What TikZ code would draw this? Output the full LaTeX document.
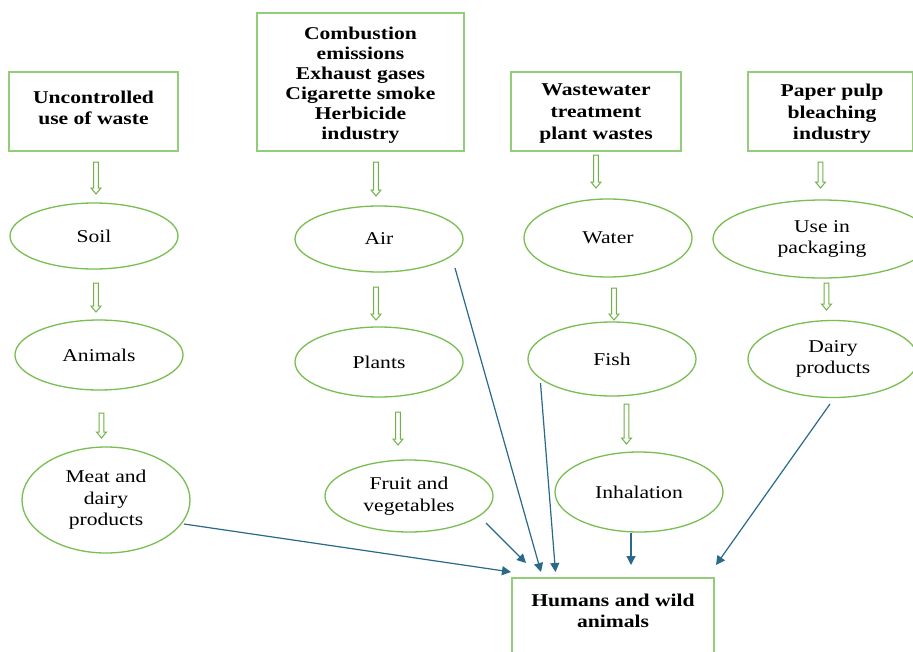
\documentclass[tikz,border=0pt]{standalone}
\usepackage{fontspec}
\setmainfont{Liberation Serif}[FakeStretch=1.2]
\usetikzlibrary{shapes.geometric,arrows.meta}
\definecolor{boxgreen}{RGB}{146,206,120}
\definecolor{ellgreen}{RGB}{120,190,80}
\definecolor{arrgreen}{RGB}{112,178,70}
\definecolor{flowblue}{RGB}{40,105,140}
\newcommand\harrow[3]{\draw[hollowarrow] ({#1-2.3},#2) -- ({#1-2.3},{#3-6}) -- ({#1-5},{#3-6}) -- (#1,#3) -- ({#1+5},{#3-6}) -- ({#1+2.3},{#3-6}) -- ({#1+2.3},#2) -- cycle;}
\begin{document}
\begin{tikzpicture}[x=1pt,y=-1pt,
  gbox/.style={draw=boxgreen, line width=1.5pt, rectangle, inner sep=0pt},
  btxt/.style={font=\fontsize{18}{21}\selectfont\bfseries, align=center, inner sep=0pt},
  ell/.style={draw=ellgreen, line width=1.3pt, ellipse, inner sep=0pt, align=center, minimum width=168pt, font=\fontsize{18}{21.5}\selectfont},
  hollowarrow/.style={draw=arrgreen, fill=white, line width=1pt, line join=miter},
  flow/.style={draw=flowblue, line width=1.2pt, -{Triangle[length=9pt,width=9pt]}}]
\useasboundingbox[fill=white] (0,0) rectangle (913,651);

% top boxes
\node[gbox, minimum width=169pt, minimum height=79pt] (b1) at (93.5,111.5) {};
\node[btxt] (b1t) at (93.5,107.5) {Uncontrolled\\use of waste};
\node[gbox, minimum width=207pt, minimum height=138pt] (b2) at (360.5,82) {};
\node[btxt, font=\fontsize{18}{20}\selectfont\bfseries] (b2t) at (360.5,85) {Combustion\\emissions\\Exhaust gases\\Cigarette smoke\\Herbicide\\industry};
\node[gbox, minimum width=170pt, minimum height=79pt] (b3) at (596,111.5) {};
\node[btxt, font=\fontsize{18}{22}\selectfont\bfseries] (b3t) at (596,114) {Wastewater\\treatment\\plant wastes};
\node[gbox, minimum width=165pt, minimum height=79pt] (b4) at (830.5,111.5) {};
\node[btxt, font=\fontsize{18}{21.5}\selectfont\bfseries] (b4t) at (832,114) {Paper pulp\\bleaching\\industry};

% ellipses
\node[ell, minimum height=66pt] (soil) at (94,236) {Soil};
\node[ell, minimum height=70pt] (animals) at (99,355) {Animals};
\node[ell, minimum height=106pt] (meat) at (106,500) {Meat and\\dairy\\products};
\node[ell, minimum height=66pt] (air) at (379,239) {Air};
\node[ell, minimum height=70pt] (plants) at (379,362) {Plants};
\node[ell, minimum height=72pt] (fruit) at (409,496) {Fruit and\\vegetables};
\node[ell, minimum height=78pt] (water) at (608,238) {Water};
\node[ell, minimum height=74pt] (fish) at (612,359) {Fish};
\node[ell, minimum height=80pt] (inhal) at (639,492) {Inhalation};
\node[ell, minimum width=218pt, minimum height=78pt] (pack) at (822,239) {Use in\\packaging};
\node[ell, minimum width=170pt, minimum height=77pt] (dairy) at (833,359) {Dairy\\products};

% bottom box
\node[gbox, minimum width=202pt, minimum height=90pt, anchor=north] (humans) at (613,577) {};
\node[btxt] (humanst) at (613,611) {Humans and wild\\animals};

% hollow arrows
\harrow{96}{162}{194}
\harrow{376}{162}{196}
\harrow{596}{155}{188}
\harrow{820.5}{162}{188}
\harrow{96}{283}{312}
\harrow{101.5}{413}{438}
\harrow{376}{287}{320}
\harrow{398}{412}{445}
\harrow{614}{288}{320}
\harrow{626.5}{404}{444}
\harrow{826.5}{283}{310}

% flow arrow ends
\coordinate (meatA) at (184,524);
\coordinate (meatB) at (511,572);
\coordinate (fruitA) at (486,523);
\coordinate (fruitB) at (526,563);
\coordinate (airA) at (455,268);
\coordinate (airB) at (541,572);
\coordinate (fishA) at (540.5,383);
\coordinate (fishB) at (555.5,572);
\coordinate (inhalA) at (631,533);
\coordinate (inhalB) at (631,565);
\coordinate (dairyA) at (830,404);
\coordinate (dairyB) at (716,565);

\draw[flow] (meatA) -- (meatB);
\draw[flow] (fruitA) -- (fruitB);
\draw[flow] (airA) -- (airB);
\draw[flow] (fishA) -- (fishB);
\draw[flow] (inhalA) -- (inhalB);
\draw[flow] (dairyA) -- (dairyB);
\end{tikzpicture}
\end{document}
